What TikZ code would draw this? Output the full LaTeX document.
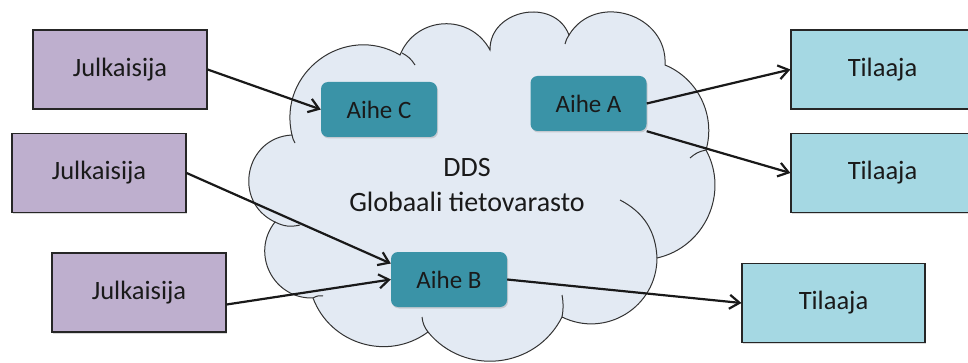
\documentclass[tikz,border=0pt]{standalone}
\usepackage{fontspec}
\setmainfont{Carlito}
\usetikzlibrary{arrows.meta,shadows,calc}
\definecolor{jfill}{HTML}{BEAFCE}
\definecolor{tfill}{HTML}{A5D8E3}
\definecolor{afill}{HTML}{3A93A7}
\definecolor{cloudfill}{HTML}{E3EAF3}
\definecolor{txt}{HTML}{1A1A1A}
\begin{document}
\begin{tikzpicture}[x=1pt,y=-1pt,
  shad/.style={drop shadow={shadow xshift=1pt,shadow yshift=-1.5pt,opacity=0.3}},
  pubbox/.style={shad, draw=black!85, line width=1.2pt, fill=jfill, minimum width=174pt, minimum height=79pt, inner sep=0pt, font=\fontsize{26.5}{30}\selectfont, text=txt},
  subbox/.style={pubbox, fill=tfill, minimum width=183pt},
  topicbox/.style={shad, fill=afill, rounded corners=7pt, minimum width=116pt, minimum height=55pt, inner sep=0pt, font=\fontsize{25}{28}\selectfont, text=txt},
  conn/.style={line width=2.2pt, draw=black!90, -{Straight Barb[length=10pt,width=14pt]}},
  cloudline/.style={draw=black!80, line width=1pt}
]
\useasboundingbox (0,0) rectangle (968,363);
% cloud
\path[cloudline, fill=cloudfill]
  (292,135) to[bend left=67, looseness=1.22] (400,55)
  to[bend left=65, looseness=1.2] (490,50)
  to[bend left=80, looseness=1.3] (569,35)
  to[bend left=76, looseness=1.3] (665,65)
  to[bend left=42, looseness=0.97] (706,150)
  to[bend left=53, looseness=1.06] (657,258)
  to[bend left=58, looseness=1.12] (562,317)
  to[bend left=57, looseness=1.1] (428,332)
  to[bend left=53, looseness=1.06] (313,298)
  to[bend left=65, looseness=1.2] (275,222)
  to[bend left=76, looseness=1.37] (292,135) -- cycle;
\draw[cloudline] (295,143) to[bend left=10] (292,135);
\draw[cloudline] (402,53) to[bend left=15] (415,65);
\draw[cloudline] (565,44) to[bend left=10] (569,35);
\draw[cloudline] (690,158) to[bend left=15] (706,150);
\draw[cloudline] (620,200) to[bend left=30] (657,258);
\draw[cloudline] (562,295) to[bend left=10] (562,317);
\draw[cloudline] (428,332) to[bend left=15] (422,317);
\draw[cloudline] (313,298) to[bend left=20] (323,296);
\draw[cloudline] (300,225) to[bend left=20] (275,222);
% text
\node[font=\fontsize{28}{35}\selectfont, text=txt, align=center] (dds) at (467,185) {DDS\\Globaali tietovarasto};
% nodes
\node[pubbox] (j1) at (120,69.5) {Julkaisija};
\node[pubbox] (j2) at (99,173) {Julkaisija};
\node[pubbox] (j3) at (139,292.5) {Julkaisija};
\node[subbox] (t1) at (882.5,69.5) {Tilaaja};
\node[subbox] (t2) at (882.5,173) {Tilaaja};
\node[subbox] (t3) at (833.5,303) {Tilaaja};
\node[topicbox] (aC) at (379,109.5) {Aihe C};
\node[topicbox] (aA) at (588.5,103.5) {Aihe A};
\node[topicbox] (aB) at (449,279.5) {Aihe B};
% connectors
\draw[conn] (j1.east) -- (aC.west);
\draw[conn] (j2.east) -- ([yshift=16pt]aB.west);
\draw[conn] ([yshift=-12pt]j3.east) -- (aB.west);
\draw[conn] (aA.east) -- (t1.west);
\draw[conn] (aA.south east) -- (t2.west);
\draw[conn] (aB.east) -- (t3.west);
\end{tikzpicture}
\end{document}
